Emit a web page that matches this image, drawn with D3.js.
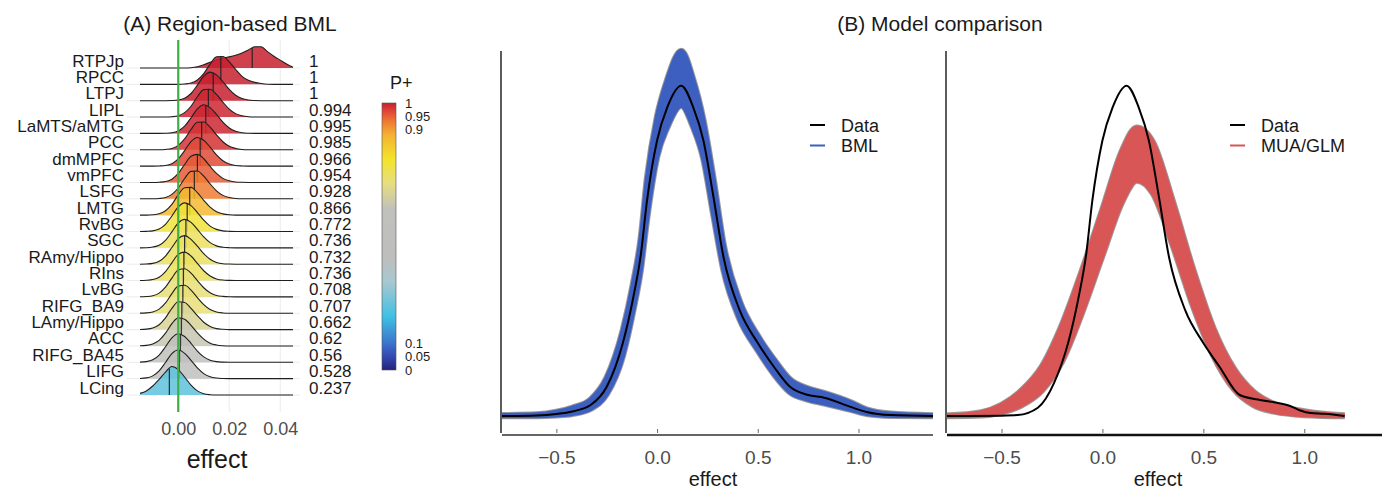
<!DOCTYPE html>
<html>
<head>
<meta charset="utf-8">
<script src="https://cdnjs.cloudflare.com/ajax/libs/d3/7.8.5/d3.min.js"></script>
<style>
  body { margin: 0; background: #fff; }
  svg { display: block; font-family: "Liberation Sans", Arial, sans-serif; }
</style>
</head>
<body>
<svg id="chart" width="1382" height="491"></svg>
<script>
(function () {
  'use strict';

  // ---------- (A) Region-based BML ----------
  const REGIONS = ['RTPJp', 'RPCC', 'LTPJ', 'LIPL', 'LaMTS/aMTG', 'PCC', 'dmMPFC', 'vmPFC', 'LSFG', 'LMTG',
    'RvBG', 'SGC', 'RAmy/Hippo', 'RIns', 'LvBG', 'RIFG_BA9', 'LAmy/Hippo', 'ACC', 'RIFG_BA45', 'LIFG', 'LCing'];
  const P_PLUS = [1, 1, 1, 0.994, 0.995, 0.985, 0.966, 0.954, 0.928, 0.866,
    0.772, 0.736, 0.732, 0.736, 0.708, 0.707, 0.662, 0.62, 0.56, 0.528, 0.237];
  const P_LABELS = ['1', '1', '1', '0.994', '0.995', '0.985', '0.966', '0.954', '0.928', '0.866',
    '0.772', '0.736', '0.732', '0.736', '0.708', '0.707', '0.662', '0.62', '0.56', '0.528', '0.237'];
  const MEDIANS = [0.029, 0.0167, 0.0137, 0.0118, 0.0108, 0.0092, 0.0086, 0.0075, 0.0063, 0.0045,
    0.0035, 0.003, 0.0025, 0.0022, 0.002, 0.0018, 0.0014, 0.0012, 0.0008, 0.0004, -0.0035];

  // posterior density, height in row units, read at these x positions
  const RIDGE_X = [-0.015, -0.0125, -0.01, -0.0075, -0.005, -0.0025, 0, 0.0025, 0.005, 0.0075, 0.01, 0.0125,
    0.015, 0.0175, 0.02, 0.0225, 0.025, 0.0275, 0.03, 0.0325, 0.035, 0.0375, 0.04, 0.0425, 0.045];
  const RIDGE_H = [
    [0, 0, 0, 0, 0, 0, 0, 0, 0.02, 0.08, 0.2, 0.35, 0.5, 0.6, 0.68, 0.78, 0.92, 1.1, 1.3, 1.3, 1.0, 0.72, 0.48, 0.24, 0.04],
    [0, 0, 0, 0, 0, 0, 0, 0.02, 0.08, 0.27, 0.66, 1.24, 1.68, 1.7, 1.38, 0.91, 0.49, 0.25, 0.12, 0.05, 0.01, 0, 0, 0, 0],
    [0, 0, 0, 0, 0, 0.01, 0.04, 0.15, 0.44, 0.95, 1.5, 1.75, 1.58, 1.16, 0.69, 0.33, 0.13, 0.04, 0.01, 0, 0, 0, 0, 0, 0],
    [0, 0, 0, 0, 0, 0.02, 0.08, 0.27, 0.66, 1.24, 1.68, 1.7, 1.38, 0.91, 0.49, 0.21, 0.08, 0.02, 0, 0, 0, 0, 0, 0, 0],
    [0, 0, 0, 0, 0.01, 0.04, 0.15, 0.44, 0.95, 1.5, 1.75, 1.58, 1.16, 0.69, 0.33, 0.13, 0.04, 0.01, 0, 0, 0, 0, 0, 0, 0],
    [0, 0, 0, 0, 0.02, 0.08, 0.27, 0.66, 1.24, 1.68, 1.7, 1.38, 0.91, 0.49, 0.21, 0.08, 0.02, 0, 0, 0, 0, 0, 0, 0, 0],
    [0, 0, 0, 0.01, 0.04, 0.15, 0.44, 0.95, 1.5, 1.75, 1.58, 1.16, 0.69, 0.33, 0.13, 0.04, 0.01, 0, 0, 0, 0, 0, 0, 0, 0],
    [0, 0, 0, 0.015, 0.06, 0.2, 0.55, 1.1, 1.6, 1.72, 1.45, 0.98, 0.55, 0.25, 0.1, 0.03, 0.01, 0, 0, 0, 0, 0, 0, 0, 0],
    [0, 0, 0, 0.02, 0.08, 0.27, 0.66, 1.24, 1.68, 1.7, 1.38, 0.91, 0.49, 0.21, 0.08, 0.02, 0, 0, 0, 0, 0, 0, 0, 0, 0],
    [0, 0, 0.02, 0.08, 0.27, 0.66, 1.24, 1.68, 1.7, 1.38, 0.91, 0.49, 0.21, 0.08, 0.02, 0, 0, 0, 0, 0, 0, 0, 0, 0, 0],
    [0, 0.01, 0.04, 0.15, 0.44, 0.95, 1.5, 1.75, 1.58, 1.16, 0.69, 0.33, 0.13, 0.04, 0.01, 0, 0, 0, 0, 0, 0, 0, 0, 0, 0],
    [0, 0.01, 0.05, 0.16, 0.46, 0.98, 1.52, 1.74, 1.56, 1.13, 0.67, 0.32, 0.12, 0.04, 0.01, 0, 0, 0, 0, 0, 0, 0, 0, 0, 0],
    [0, 0.01, 0.05, 0.18, 0.5, 1.02, 1.56, 1.75, 1.52, 1.1, 0.64, 0.3, 0.11, 0.03, 0.01, 0, 0, 0, 0, 0, 0, 0, 0, 0, 0],
    [0, 0.015, 0.06, 0.2, 0.55, 1.08, 1.6, 1.74, 1.5, 1.05, 0.6, 0.28, 0.1, 0.03, 0.01, 0, 0, 0, 0, 0, 0, 0, 0, 0, 0],
    [0.005, 0.02, 0.07, 0.23, 0.6, 1.15, 1.64, 1.72, 1.45, 1.0, 0.56, 0.25, 0.09, 0.03, 0.005, 0, 0, 0, 0, 0, 0, 0, 0, 0, 0],
    [0.005, 0.02, 0.08, 0.25, 0.63, 1.2, 1.66, 1.71, 1.42, 0.96, 0.53, 0.23, 0.08, 0.02, 0, 0, 0, 0, 0, 0, 0, 0, 0, 0, 0],
    [0.01, 0.03, 0.1, 0.3, 0.72, 1.3, 1.7, 1.66, 1.3, 0.85, 0.45, 0.19, 0.06, 0.02, 0, 0, 0, 0, 0, 0, 0, 0, 0, 0, 0],
    [0.01, 0.035, 0.12, 0.34, 0.78, 1.36, 1.72, 1.63, 1.26, 0.8, 0.42, 0.17, 0.06, 0.015, 0, 0, 0, 0, 0, 0, 0, 0, 0, 0, 0],
    [0.01, 0.04, 0.15, 0.44, 0.95, 1.5, 1.75, 1.58, 1.16, 0.69, 0.33, 0.13, 0.04, 0.01, 0, 0, 0, 0, 0, 0, 0, 0, 0, 0, 0],
    [0.012, 0.045, 0.17, 0.47, 0.99, 1.53, 1.75, 1.55, 1.12, 0.66, 0.31, 0.12, 0.04, 0.01, 0, 0, 0, 0, 0, 0, 0, 0, 0, 0, 0],
    [0.1, 0.25, 0.55, 0.95, 1.4, 1.74, 1.55, 1.1, 0.6, 0.25, 0.08, 0.02, 0, 0, 0, 0, 0, 0, 0, 0, 0, 0, 0, 0, 0]
  ];
  const A_TICKS = [0, 0.02, 0.04];

  // colour scale for P+
  const P_STOPS = [0, 0.05, 0.1, 0.2, 0.33, 0.42, 0.6, 0.7, 0.79, 0.88, 0.93, 0.97, 1];
  const P_COLORS = ['#22227a', '#3449b0', '#3c73cc', '#40c0e4', '#a8c8cf', '#bebebe', '#c0c0bc',
    '#e6de80', '#f3e42a', '#f3b233', '#ee7b31', '#e04438', '#c8202f'];
  const P_TICKS = [0, 0.05, 0.1, 0.9, 0.95, 1];

  // ---------- (B) Model comparison ----------
  const B_TICKS = [-0.5, 0, 0.5, 1];

  const OBS_X_L = [-0.77, -0.6, -0.5, -0.42, -0.33, -0.25, -0.17, -0.12, -0.08, -0.05, 0, 0.05, 0.12,
    0.18, 0.23, 0.28, 0.33, 0.41, 0.5, 0.58, 0.66, 0.75, 0.83, 0.96, 1.04, 1.16, 1.37];
  const OBS_Y_L = [0, 0.003, 0.011, 0.025, 0.06, 0.16, 0.40, 0.64, 0.89, 1.18, 1.51, 1.69, 1.81,
    1.69, 1.51, 1.2, 0.87, 0.58, 0.40, 0.27, 0.16, 0.115, 0.10, 0.05, 0.022, 0.005, 0];
  const BML_HI = [0.004, 0.008, 0.022, 0.045, 0.09, 0.21, 0.47, 0.72, 0.98, 1.3, 1.64, 1.84, 2.0,
    1.84, 1.62, 1.3, 0.94, 0.63, 0.44, 0.31, 0.2, 0.15, 0.125, 0.075, 0.035, 0.012, 0.003];
  const BML_LO = [0, 0, 0.004, 0.012, 0.04, 0.12, 0.33, 0.57, 0.81, 1.08, 1.42, 1.58, 1.70,
    1.58, 1.41, 1.1, 0.8, 0.53, 0.36, 0.23, 0.13, 0.09, 0.07, 0.035, 0.012, 0.002, 0];

  const OBS_X_R = [-0.77, -0.5, -0.42, -0.32, -0.24, -0.17, -0.12, -0.08, -0.05, 0, 0.05, 0.12, 0.18,
    0.23, 0.28, 0.33, 0.41, 0.5, 0.58, 0.68, 0.77, 0.85, 0.93, 0.98, 1.03, 1.1, 1.2];
  const OBS_Y_R = [0, 0.002, 0.005, 0.045, 0.18, 0.40, 0.64, 0.89, 1.18, 1.51, 1.69, 1.81, 1.69,
    1.51, 1.2, 0.87, 0.58, 0.40, 0.27, 0.115, 0.09, 0.075, 0.055, 0.03, 0.016, 0.012, 0];

  const MUA_X = [-0.77, -0.6, -0.5, -0.4, -0.3, -0.2, -0.1, 0, 0.1, 0.17, 0.25, 0.35, 0.45, 0.55,
    0.65, 0.75, 0.85, 1.0, 1.2];
  const MUA_HI = [0.002, 0.02, 0.06, 0.14, 0.27, 0.5, 0.8, 1.13, 1.46, 1.58, 1.5, 1.17, 0.8, 0.48,
    0.26, 0.13, 0.065, 0.025, 0.003];
  const MUA_LO = [0, 0.004, 0.02, 0.06, 0.14, 0.3, 0.57, 0.88, 1.18, 1.29, 1.22, 0.93, 0.6, 0.33,
    0.15, 0.06, 0.025, 0.006, 0];

  const COLORS = {
    text: '#1a1a1a',
    tick: '#4d4d4d',
    grid: '#ebebeb',
    zero: '#3cb043',
    ridgeLine: '#1f1f1f',
    axis: '#333333',
    obs: '#000000',
    bml: '#3d5fbf',
    mua: '#d85656',
    rep: '#9a9a9a'
  };

  const svg = d3.select('#chart');
  svg.append('rect').attr('width', 1382).attr('height', 491).attr('fill', '#fff');

  /**
   * Panel A: ridgeline densities per region
   */
  function drawRidges() {
    const g = svg.append('g').attr('class', 'panel-a');
    const xA = d3.scaleLinear().domain([-0.015, 0.045]).range([140, 293]);
    const yRow = d3.scalePoint().domain(REGIONS).range([68, 395]);
    const step = yRow.step();
    const pColor = d3.scaleLinear().domain(P_STOPS).range(P_COLORS).interpolate(d3.interpolateRgb);

    g.append('text')
      .attr('x', 230).attr('y', 31)
      .attr('text-anchor', 'middle')
      .attr('font-size', 21)
      .attr('fill', COLORS.text)
      .text('(A) Region-based BML');

    // grid
    g.selectAll('.vgrid').data(A_TICKS).join('line')
      .attr('x1', d => xA(d)).attr('x2', d => xA(d))
      .attr('y1', 40).attr('y2', 412)
      .attr('stroke', COLORS.grid).attr('stroke-width', 1);
    g.selectAll('.hgrid').data(REGIONS).join('line')
      .attr('x1', 127).attr('x2', 300)
      .attr('y1', d => yRow(d)).attr('y2', d => yRow(d))
      .attr('stroke', COLORS.grid).attr('stroke-width', 1);

    const bisect = d3.bisector(d => d).left;

    REGIONS.forEach((name, j) => {
      const base = yRow(name);
      const pts = RIDGE_X.map((x, i) => [x, RIDGE_H[j][i]]);
      const area = d3.area()
        .x(d => xA(d[0]))
        .y0(base)
        .y1(d => base - d[1] * step)
        .curve(d3.curveMonotoneX);
      const line = d3.line()
        .x(d => xA(d[0]))
        .y(d => base - d[1] * step)
        .curve(d3.curveMonotoneX);

      g.append('path').datum(pts)
        .attr('d', area)
        .attr('fill', pColor(P_PLUS[j]))
        .attr('fill-opacity', 0.85);
      g.append('path').datum(pts)
        .attr('d', line)
        .attr('fill', 'none')
        .attr('stroke', COLORS.ridgeLine)
        .attr('stroke-width', 1.1);

      // median line up to the curve
      const m = MEDIANS[j];
      const k = Math.max(1, bisect(RIDGE_X, m));
      const t = (m - RIDGE_X[k - 1]) / (RIDGE_X[k] - RIDGE_X[k - 1]);
      const h = RIDGE_H[j][k - 1] + t * (RIDGE_H[j][k] - RIDGE_H[j][k - 1]);
      g.append('line')
        .attr('x1', xA(m)).attr('x2', xA(m))
        .attr('y1', base).attr('y2', base - h * step)
        .attr('stroke', COLORS.ridgeLine).attr('stroke-width', 1.1);

      g.append('text')
        .attr('x', 124).attr('y', base - 1.5)
        .attr('text-anchor', 'end')
        .attr('font-size', 17)
        .attr('fill', COLORS.text)
        .text(name);
      g.append('text')
        .attr('x', 309).attr('y', base - 1.5)
        .attr('font-size', 17)
        .attr('fill', COLORS.text)
        .text(P_LABELS[j]);
    });

    // zero line
    g.append('line')
      .attr('x1', xA(0)).attr('x2', xA(0))
      .attr('y1', 40).attr('y2', 412)
      .attr('stroke', COLORS.zero).attr('stroke-width', 2.2);

    const axis = d3.axisBottom(xA)
      .tickValues(A_TICKS)
      .tickFormat(d3.format('.2f'))
      .tickSize(0)
      .tickPadding(0);
    const ax = g.append('g').attr('transform', 'translate(0,422)').call(axis);
    ax.select('.domain').remove();
    ax.selectAll('text')
      .attr('font-size', 18)
      .attr('font-family', 'inherit')
      .attr('fill', COLORS.tick);

    g.append('text')
      .attr('x', 217).attr('y', 468)
      .attr('text-anchor', 'middle')
      .attr('font-size', 25)
      .attr('fill', COLORS.text)
      .text('effect');

    // colour bar
    const grad = svg.append('defs').append('linearGradient')
      .attr('id', 'pgrad')
      .attr('x1', 0).attr('y1', 1).attr('x2', 0).attr('y2', 0);
    grad.selectAll('stop').data(P_STOPS).join('stop')
      .attr('offset', d => d)
      .attr('stop-color', (d, i) => P_COLORS[i]);

    const yBar = d3.scaleLinear().domain([0, 1]).range([370, 103]);
    g.append('rect')
      .attr('x', 382).attr('y', yBar(1))
      .attr('width', 14).attr('height', yBar(0) - yBar(1))
      .attr('fill', 'url(#pgrad)')
      .attr('stroke', '#555').attr('stroke-width', 0.6);
    g.append('text')
      .attr('x', 390).attr('y', 89)
      .attr('font-size', 18)
      .attr('fill', COLORS.text)
      .text('P+');
    const barAxis = d3.axisRight(yBar)
      .tickValues(P_TICKS)
      .tickFormat(d => String(d))
      .tickSize(0)
      .tickPadding(0);
    const bax = g.append('g').attr('transform', 'translate(405,0)').call(barAxis);
    bax.select('.domain').remove();
    bax.selectAll('text')
      .attr('font-size', 13)
      .attr('font-family', 'inherit')
      .attr('fill', COLORS.text);
  }

  /**
   * Panel B: one posterior predictive comparison
   */
  function drawCheck(opts) {
    const g = svg.append('g');
    const x = d3.scaleLinear().domain(opts.domain).range(opts.range);
    const y = d3.scaleLinear().domain([0, 2]).range([416, 51]);

    const line = d3.line()
      .x(d => x(d[0])).y(d => y(d[1]))
      .curve(d3.curveMonotoneX);
    const band = d3.area()
      .x(d => x(d[0])).y0(d => y(d[1])).y1(d => y(d[2]))
      .curve(d3.curveMonotoneX);

    const hi = opts.repX.map((v, i) => [v, opts.repHi[i]]);
    const lo = opts.repX.map((v, i) => [v, opts.repLo[i]]);
    const both = opts.repX.map((v, i) => [v, opts.repLo[i], opts.repHi[i]]);

    // replicate density lines: grey rims, coloured body
    [hi, lo].forEach(d => {
      g.append('path').datum(d).attr('d', line)
        .attr('fill', 'none').attr('stroke', COLORS.rep).attr('stroke-width', 6.5)
        .attr('stroke-linejoin', 'round');
    });
    g.append('path').datum(both).attr('d', band)
      .attr('fill', opts.color);
    [hi, lo].forEach(d => {
      g.append('path').datum(d).attr('d', line)
        .attr('fill', 'none').attr('stroke', opts.color).attr('stroke-width', 4.5)
        .attr('stroke-linejoin', 'round');
    });

    const obs = opts.obsX.map((v, i) => [v, opts.obsY[i]]);
    g.append('path').datum(obs).attr('d', line)
      .attr('fill', 'none').attr('stroke', COLORS.obs).attr('stroke-width', 2);

    // axes
    g.append('line')
      .attr('x1', opts.range[0] - 1).attr('x2', opts.range[0] - 1)
      .attr('y1', 51).attr('y2', 433)
      .attr('stroke', COLORS.axis).attr('stroke-width', 1.6);
    g.append('line')
      .attr('x1', opts.range[0]).attr('x2', opts.axisEnd)
      .attr('y1', 435).attr('y2', 435)
      .attr('stroke', opts.axisColor).attr('stroke-width', opts.axisWidth);

    const axis = d3.axisBottom(x)
      .tickValues(B_TICKS)
      .tickFormat(d3.format('.1f'))
      .tickSizeInner(-4)
      .tickSizeOuter(0)
      .tickPadding(18);
    const ax = g.append('g').attr('transform', 'translate(0,433)').call(axis);
    ax.select('.domain').remove();
    ax.selectAll('line').attr('stroke', '#666');
    ax.selectAll('text')
      .attr('font-size', 19)
      .attr('font-family', 'inherit')
      .attr('fill', COLORS.tick);

    g.append('text')
      .attr('x', opts.labelX).attr('y', 486)
      .attr('text-anchor', 'middle')
      .attr('font-size', 20)
      .attr('fill', COLORS.text)
      .text('effect');

    // legend
    const items = [['Data', COLORS.obs], [opts.name, opts.color]];
    items.forEach((it, i) => {
      const yy = 125 + i * 20.5;
      g.append('line')
        .attr('x1', opts.legendX).attr('x2', opts.legendX + 15)
        .attr('y1', yy).attr('y2', yy)
        .attr('stroke', it[1]).attr('stroke-width', 2);
      g.append('text')
        .attr('x', opts.legendX + 31).attr('y', yy + 6.5)
        .attr('font-size', 18)
        .attr('fill', COLORS.text)
        .text(it[0]);
    });
  }

  drawRidges();

  svg.append('text')
    .attr('x', 940).attr('y', 31)
    .attr('text-anchor', 'middle')
    .attr('font-size', 21)
    .attr('fill', COLORS.text)
    .text('(B) Model comparison');

  drawCheck({
    domain: [-0.77, 1.37], range: [502, 933], axisEnd: 933,
    axisColor: COLORS.axis, axisWidth: 1.6, labelX: 713,
    repX: OBS_X_L, repHi: BML_HI, repLo: BML_LO,
    obsX: OBS_X_L, obsY: OBS_Y_L,
    color: COLORS.bml, name: 'BML', legendX: 810
  });
  drawCheck({
    domain: [-0.77, 1.39], range: [947, 1383], axisEnd: 1382,
    axisColor: '#111', axisWidth: 2.6, labelX: 1158,
    repX: MUA_X, repHi: MUA_HI, repLo: MUA_LO,
    obsX: OBS_X_R, obsY: OBS_Y_R,
    color: COLORS.mua, name: 'MUA/GLM', legendX: 1230
  });
})();
</script>
</body>
</html>
